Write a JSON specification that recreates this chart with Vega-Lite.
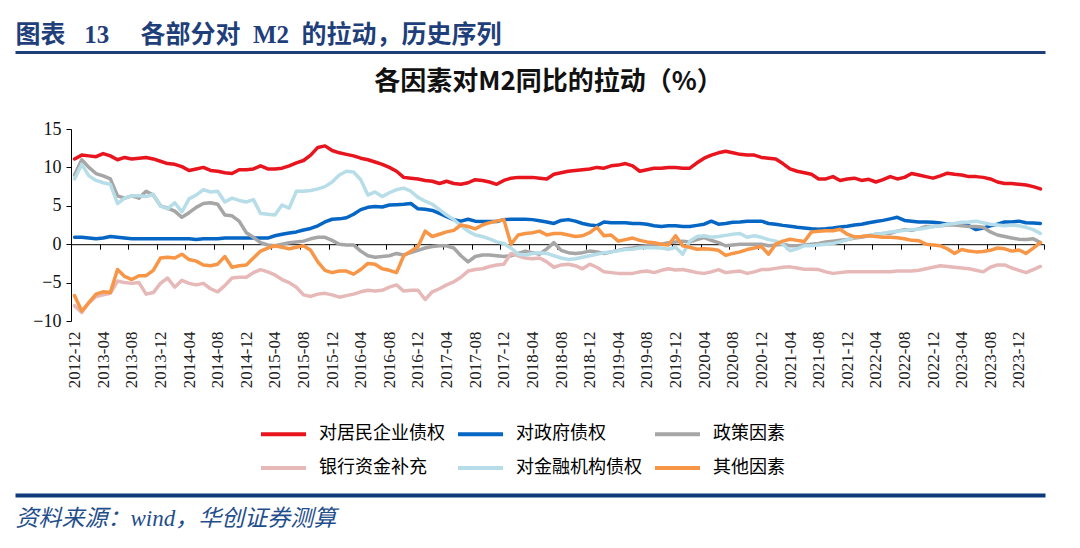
{
  "$schema": "https://vega.github.io/schema/vega-lite/v6.json",
  "width": 973,
  "height": 192,
  "autosize": {"type": "none"},
  "padding": {"left": 71, "top": 129, "right": 36, "bottom": 227},
  "background": "white",
  "config": {"view": {"stroke": null}, "axis": {"grid": false}},
  "data": {"values": [
    {"m":"2012-12","a":11.1,"b":0.9,"c":9.0,"d":-8.0,"e":8.5,"f":-6.7},
    {"m":"2013-01","a":11.6,"b":0.9,"c":11.0,"d":-8.9,"e":10.4,"f":-8.7},
    {"m":"2013-02","a":11.5,"b":0.8,"c":10.0,"d":-7.6,"e":8.9,"f":-7.6},
    {"m":"2013-03","a":11.4,"b":0.7,"c":9.2,"d":-6.8,"e":8.3,"f":-6.5},
    {"m":"2013-04","a":11.8,"b":0.8,"c":8.9,"d":-6.6,"e":8.0,"f":-6.2},
    {"m":"2013-05","a":11.5,"b":1.0,"c":8.5,"d":-6.4,"e":7.8,"f":-6.3},
    {"m":"2013-06","a":11.0,"b":0.9,"c":6.3,"d":-4.8,"e":5.3,"f":-3.3},
    {"m":"2013-07","a":11.3,"b":0.8,"c":6.0,"d":-5.0,"e":6.0,"f":-4.2},
    {"m":"2013-08","a":11.1,"b":0.7,"c":6.3,"d":-5.1,"e":6.3,"f":-4.6},
    {"m":"2013-09","a":11.2,"b":0.7,"c":6.0,"d":-5.0,"e":6.3,"f":-4.1},
    {"m":"2013-10","a":11.3,"b":0.7,"c":6.9,"d":-6.5,"e":6.2,"f":-4.1},
    {"m":"2013-11","a":11.1,"b":0.7,"c":6.4,"d":-6.3,"e":6.5,"f":-3.4},
    {"m":"2013-12","a":10.8,"b":0.7,"c":5.0,"d":-5.1,"e":5.0,"f":-1.8},
    {"m":"2014-01","a":10.5,"b":0.7,"c":4.7,"d":-4.4,"e":4.6,"f":-1.7},
    {"m":"2014-02","a":10.4,"b":0.7,"c":4.3,"d":-5.6,"e":5.4,"f":-1.8},
    {"m":"2014-03","a":10.1,"b":0.7,"c":3.5,"d":-4.7,"e":4.2,"f":-1.3},
    {"m":"2014-04","a":9.6,"b":0.7,"c":4.1,"d":-5.1,"e":5.9,"f":-2.0},
    {"m":"2014-05","a":9.8,"b":0.6,"c":4.8,"d":-5.3,"e":6.4,"f":-2.2},
    {"m":"2014-06","a":10.0,"b":0.7,"c":5.3,"d":-5.1,"e":7.1,"f":-2.7},
    {"m":"2014-07","a":9.6,"b":0.7,"c":5.4,"d":-5.8,"e":6.8,"f":-2.8},
    {"m":"2014-08","a":9.5,"b":0.7,"c":5.2,"d":-6.2,"e":6.9,"f":-2.6},
    {"m":"2014-09","a":9.3,"b":0.8,"c":3.8,"d":-5.4,"e":5.5,"f":-1.6},
    {"m":"2014-10","a":9.2,"b":0.8,"c":3.7,"d":-4.4,"e":6.0,"f":-3.0},
    {"m":"2014-11","a":9.7,"b":0.8,"c":3.0,"d":-4.3,"e":5.7,"f":-2.8},
    {"m":"2014-12","a":9.7,"b":0.8,"c":1.5,"d":-4.3,"e":5.5,"f":-2.7},
    {"m":"2015-01","a":9.8,"b":0.8,"c":0.9,"d":-3.7,"e":5.8,"f":-1.8},
    {"m":"2015-02","a":10.2,"b":0.8,"c":0.2,"d":-3.3,"e":4.0,"f":-0.9},
    {"m":"2015-03","a":9.8,"b":0.8,"c":-0.1,"d":-3.6,"e":3.9,"f":-0.5},
    {"m":"2015-04","a":9.8,"b":1.1,"c":-0.2,"d":-4.0,"e":3.8,"f":-0.2},
    {"m":"2015-05","a":9.9,"b":1.3,"c":0.0,"d":-4.6,"e":5.1,"f":-0.4},
    {"m":"2015-06","a":10.2,"b":1.45,"c":0.2,"d":-5.0,"e":4.7,"f":-0.6},
    {"m":"2015-07","a":10.6,"b":1.6,"c":0.3,"d":-5.6,"e":6.9,"f":-0.4},
    {"m":"2015-08","a":10.9,"b":1.85,"c":0.4,"d":-6.6,"e":6.9,"f":-0.2},
    {"m":"2015-09","a":11.6,"b":2.05,"c":0.7,"d":-6.8,"e":7.0,"f":-0.8},
    {"m":"2015-10","a":12.6,"b":2.4,"c":0.9,"d":-6.5,"e":7.2,"f":-2.3},
    {"m":"2015-11","a":12.8,"b":2.9,"c":0.9,"d":-6.4,"e":7.5,"f":-3.4},
    {"m":"2015-12","a":12.2,"b":3.25,"c":0.5,"d":-6.6,"e":8.1,"f":-3.7},
    {"m":"2016-01","a":11.9,"b":3.3,"c":0.0,"d":-6.9,"e":9.0,"f":-3.5},
    {"m":"2016-02","a":11.7,"b":3.45,"c":-0.1,"d":-6.7,"e":9.5,"f":-3.5},
    {"m":"2016-03","a":11.5,"b":3.9,"c":-0.1,"d":-6.5,"e":9.4,"f":-3.9},
    {"m":"2016-04","a":11.2,"b":4.5,"c":-0.9,"d":-6.2,"e":8.4,"f":-3.3},
    {"m":"2016-05","a":11.0,"b":4.8,"c":-1.5,"d":-6.0,"e":6.4,"f":-2.5},
    {"m":"2016-06","a":10.7,"b":4.9,"c":-1.7,"d":-6.1,"e":6.8,"f":-2.6},
    {"m":"2016-07","a":10.4,"b":4.85,"c":-1.6,"d":-6.0,"e":6.2,"f":-3.2},
    {"m":"2016-08","a":10.0,"b":5.1,"c":-1.5,"d":-5.6,"e":6.7,"f":-3.4},
    {"m":"2016-09","a":9.5,"b":5.15,"c":-1.2,"d":-5.3,"e":7.1,"f":-3.7},
    {"m":"2016-10","a":8.7,"b":5.2,"c":-1.4,"d":-6.1,"e":7.3,"f":-1.5},
    {"m":"2016-11","a":8.6,"b":5.3,"c":-1.1,"d":-6.0,"e":6.9,"f":-0.9},
    {"m":"2016-12","a":8.5,"b":4.6,"c":-0.8,"d":-6.0,"e":6.1,"f":-0.3},
    {"m":"2017-01","a":8.3,"b":4.55,"c":-0.5,"d":-7.2,"e":5.6,"f":1.7},
    {"m":"2017-02","a":8.2,"b":4.4,"c":-0.3,"d":-6.2,"e":5.2,"f":1.0},
    {"m":"2017-03","a":7.9,"b":4.0,"c":-0.2,"d":-5.8,"e":4.5,"f":1.3},
    {"m":"2017-04","a":8.2,"b":3.6,"c":-0.2,"d":-5.3,"e":3.8,"f":1.6},
    {"m":"2017-05","a":7.9,"b":3.2,"c":-0.5,"d":-4.9,"e":3.2,"f":1.8},
    {"m":"2017-06","a":7.8,"b":3.0,"c":-1.5,"d":-4.3,"e":2.4,"f":2.5},
    {"m":"2017-07","a":8.0,"b":3.25,"c":-2.3,"d":-3.5,"e":1.7,"f":2.3},
    {"m":"2017-08","a":8.4,"b":3.0,"c":-1.6,"d":-3.3,"e":1.2,"f":2.0},
    {"m":"2017-09","a":8.3,"b":2.95,"c":-1.4,"d":-3.2,"e":1.0,"f":2.5},
    {"m":"2017-10","a":8.1,"b":2.95,"c":-1.4,"d":-2.9,"e":0.7,"f":2.8},
    {"m":"2017-11","a":7.8,"b":2.95,"c":-1.5,"d":-2.7,"e":0.3,"f":3.0},
    {"m":"2017-12","a":8.3,"b":3.2,"c":-1.6,"d":-2.6,"e":0.1,"f":3.2},
    {"m":"2018-01","a":8.6,"b":3.25,"c":-1.5,"d":-1.2,"e":-0.5,"f":0.0},
    {"m":"2018-02","a":8.7,"b":3.25,"c":-1.2,"d":-1.5,"e":-1.3,"f":1.2},
    {"m":"2018-03","a":8.7,"b":3.25,"c":-0.9,"d":-1.8,"e":-1.4,"f":1.4},
    {"m":"2018-04","a":8.7,"b":3.2,"c":-1.1,"d":-1.9,"e":-1.2,"f":1.5},
    {"m":"2018-05","a":8.6,"b":3.05,"c":-1.3,"d":-1.8,"e":-1.1,"f":1.7},
    {"m":"2018-06","a":8.5,"b":2.9,"c":-0.6,"d":-2.3,"e":-1.2,"f":1.2},
    {"m":"2018-07","a":9.1,"b":2.7,"c":0.2,"d":-3.0,"e":-1.5,"f":1.4},
    {"m":"2018-08","a":9.3,"b":3.1,"c":-0.8,"d":-2.7,"e":-1.8,"f":1.4},
    {"m":"2018-09","a":9.5,"b":3.2,"c":-1.1,"d":-2.6,"e":-2.0,"f":1.2},
    {"m":"2018-10","a":9.6,"b":3.0,"c":-1.2,"d":-2.8,"e":-1.9,"f":1.0},
    {"m":"2018-11","a":9.7,"b":2.7,"c":-1.1,"d":-3.2,"e":-1.7,"f":1.1},
    {"m":"2018-12","a":9.8,"b":2.5,"c":-0.9,"d":-2.6,"e":-1.5,"f":1.5},
    {"m":"2019-01","a":10.0,"b":2.4,"c":-1.0,"d":-3.0,"e":-1.3,"f":2.2},
    {"m":"2019-02","a":9.9,"b":2.9,"c":-1.2,"d":-3.6,"e":-1.1,"f":1.1},
    {"m":"2019-03","a":10.2,"b":2.8,"c":-1.0,"d":-3.7,"e":-1.0,"f":1.2},
    {"m":"2019-04","a":10.3,"b":2.8,"c":-0.8,"d":-3.8,"e":-0.85,"f":0.4},
    {"m":"2019-05","a":10.5,"b":2.8,"c":-0.6,"d":-3.8,"e":-0.7,"f":0.6},
    {"m":"2019-06","a":10.2,"b":2.7,"c":-0.5,"d":-3.8,"e":-0.65,"f":0.8},
    {"m":"2019-07","a":9.5,"b":2.7,"c":-0.3,"d":-3.6,"e":-0.5,"f":0.5},
    {"m":"2019-08","a":9.7,"b":2.6,"c":-0.2,"d":-3.5,"e":-0.45,"f":0.3},
    {"m":"2019-09","a":9.9,"b":2.4,"c":-0.1,"d":-3.7,"e":-0.45,"f":0.2},
    {"m":"2019-10","a":9.9,"b":2.3,"c":0.0,"d":-3.4,"e":-0.5,"f":0.0},
    {"m":"2019-11","a":10.0,"b":2.4,"c":0.2,"d":-3.2,"e":-0.65,"f":-0.1},
    {"m":"2019-12","a":10.0,"b":2.4,"c":0.3,"d":-3.35,"e":-0.4,"f":1.1},
    {"m":"2020-01","a":9.9,"b":2.3,"c":0.4,"d":-3.3,"e":-1.3,"f":-0.2},
    {"m":"2020-02","a":9.9,"b":2.3,"c":0.3,"d":-3.5,"e":0.4,"f":-0.4},
    {"m":"2020-03","a":10.6,"b":2.45,"c":0.6,"d":-3.7,"e":1.0,"f":-0.65},
    {"m":"2020-04","a":11.2,"b":2.6,"c":0.85,"d":-3.8,"e":1.1,"f":-0.6},
    {"m":"2020-05","a":11.6,"b":3.0,"c":0.5,"d":-3.6,"e":0.9,"f":-0.65},
    {"m":"2020-06","a":11.9,"b":2.6,"c":0.2,"d":-3.3,"e":1.0,"f":-0.8},
    {"m":"2020-07","a":12.1,"b":2.7,"c":-0.2,"d":-3.7,"e":1.15,"f":-1.45},
    {"m":"2020-08","a":11.9,"b":2.85,"c":-0.1,"d":-3.6,"e":1.3,"f":-1.2},
    {"m":"2020-09","a":11.7,"b":2.9,"c":0.0,"d":-3.5,"e":1.4,"f":-1.0},
    {"m":"2020-10","a":11.6,"b":3.0,"c":0.0,"d":-3.8,"e":0.9,"f":-0.7},
    {"m":"2020-11","a":11.6,"b":3.0,"c":0.0,"d":-3.6,"e":1.1,"f":-0.5},
    {"m":"2020-12","a":11.3,"b":3.0,"c":0.0,"d":-3.3,"e":0.9,"f":-0.3},
    {"m":"2021-01","a":11.2,"b":2.7,"c":-0.2,"d":-3.3,"e":0.6,"f":-1.3},
    {"m":"2021-02","a":11.1,"b":2.6,"c":-0.1,"d":-3.15,"e":0.4,"f":0.0},
    {"m":"2021-03","a":10.5,"b":2.45,"c":0.0,"d":-3.0,"e":0.0,"f":0.4},
    {"m":"2021-04","a":9.8,"b":2.35,"c":-0.2,"d":-2.95,"e":-0.85,"f":0.65},
    {"m":"2021-05","a":9.5,"b":2.2,"c":-0.2,"d":-3.1,"e":-0.6,"f":0.5},
    {"m":"2021-06","a":9.3,"b":2.1,"c":-0.1,"d":-3.25,"e":-0.2,"f":0.35},
    {"m":"2021-07","a":9.1,"b":2.0,"c":0.0,"d":-3.25,"e":-0.2,"f":1.6},
    {"m":"2021-08","a":8.5,"b":1.95,"c":0.1,"d":-3.3,"e":-0.1,"f":1.7},
    {"m":"2021-09","a":8.5,"b":2.0,"c":0.3,"d":-3.6,"e":0.0,"f":1.75},
    {"m":"2021-10","a":8.8,"b":2.1,"c":0.4,"d":-3.8,"e":0.1,"f":1.75},
    {"m":"2021-11","a":8.3,"b":2.25,"c":0.5,"d":-3.7,"e":0.3,"f":1.95},
    {"m":"2021-12","a":8.5,"b":2.35,"c":0.6,"d":-3.6,"e":0.6,"f":1.3},
    {"m":"2022-01","a":8.6,"b":2.5,"c":0.8,"d":-3.6,"e":0.9,"f":0.95},
    {"m":"2022-02","a":8.3,"b":2.6,"c":0.9,"d":-3.6,"e":1.0,"f":1.0},
    {"m":"2022-03","a":8.45,"b":2.8,"c":1.1,"d":-3.6,"e":1.15,"f":1.1},
    {"m":"2022-04","a":8.1,"b":2.95,"c":1.3,"d":-3.6,"e":1.3,"f":1.0},
    {"m":"2022-05","a":8.4,"b":3.1,"c":1.4,"d":-3.6,"e":1.4,"f":0.9},
    {"m":"2022-06","a":8.8,"b":3.3,"c":1.4,"d":-3.6,"e":1.6,"f":0.9},
    {"m":"2022-07","a":8.5,"b":3.5,"c":1.7,"d":-3.5,"e":1.7,"f":0.85},
    {"m":"2022-08","a":8.7,"b":3.1,"c":1.9,"d":-3.5,"e":1.8,"f":0.7},
    {"m":"2022-09","a":9.2,"b":3.0,"c":1.8,"d":-3.5,"e":1.9,"f":0.5},
    {"m":"2022-10","a":9.0,"b":2.9,"c":2.0,"d":-3.4,"e":1.95,"f":0.45},
    {"m":"2022-11","a":8.8,"b":2.9,"c":2.3,"d":-3.2,"e":2.1,"f":0.0},
    {"m":"2022-12","a":8.6,"b":2.85,"c":2.3,"d":-3.0,"e":2.3,"f":-0.1},
    {"m":"2023-01","a":8.9,"b":2.75,"c":2.4,"d":-2.8,"e":2.4,"f":-0.2},
    {"m":"2023-02","a":9.25,"b":2.6,"c":2.5,"d":-2.9,"e":2.6,"f":-0.6},
    {"m":"2023-03","a":9.1,"b":2.6,"c":2.5,"d":-3.0,"e":2.7,"f":-1.2},
    {"m":"2023-04","a":9.0,"b":2.6,"c":2.4,"d":-3.1,"e":2.85,"f":-0.7},
    {"m":"2023-05","a":8.8,"b":2.4,"c":2.3,"d":-3.2,"e":2.9,"f":-0.9},
    {"m":"2023-06","a":8.8,"b":1.9,"c":2.3,"d":-3.4,"e":3.0,"f":-1.0},
    {"m":"2023-07","a":8.7,"b":2.1,"c":2.2,"d":-3.6,"e":2.8,"f":-0.95},
    {"m":"2023-08","a":8.5,"b":2.4,"c":1.6,"d":-3.0,"e":2.6,"f":-0.8},
    {"m":"2023-09","a":8.1,"b":2.6,"c":1.2,"d":-2.7,"e":2.5,"f":-0.5},
    {"m":"2023-10","a":7.9,"b":2.9,"c":1.0,"d":-2.7,"e":2.4,"f":-0.6},
    {"m":"2023-11","a":7.9,"b":2.9,"c":0.8,"d":-3.1,"e":2.5,"f":-0.9},
    {"m":"2023-12","a":7.8,"b":3.0,"c":0.65,"d":-3.4,"e":2.4,"f":-0.75},
    {"m":"2024-01","a":7.7,"b":2.8,"c":0.6,"d":-3.7,"e":2.2,"f":-1.2},
    {"m":"2024-02","a":7.5,"b":2.75,"c":0.7,"d":-3.3,"e":1.9,"f":-0.5},
    {"m":"2024-03","a":7.2,"b":2.7,"c":0.2,"d":-2.9,"e":1.4,"f":0.2}
  ]},
  "layer": [
    {
      "transform": [{"fold": ["a","b","c","d","e","f"], "as": ["k","v"]}],
      "mark": {"type": "line", "strokeWidth": 3.5, "strokeJoin": "round", "strokeCap": "round"},
      "encoding": {
        "x": {"field": "m", "type": "ordinal", "scale": {"type": "point", "padding": 0.5},
          "axis": {"orient": "bottom", "title": null, "domain": false, "ticks": false,
            "values": ["2012-12","2013-04","2013-08","2013-12","2014-04","2014-08","2014-12","2015-04","2015-08","2015-12","2016-04","2016-08","2016-12","2017-04","2017-08","2017-12","2018-04","2018-08","2018-12","2019-04","2019-08","2019-12","2020-04","2020-08","2020-12","2021-04","2021-08","2021-12","2022-04","2022-08","2022-12","2023-04","2023-08","2023-12"],
            "labelAngle": 270, "labelAlign": "right", "labelBaseline": "middle",
            "labelFont": "Liberation Serif", "labelFontSize": 17, "labelColor": "#222",
            "labelPadding": 10, "labelOverlap": false, "labelFlush": false}},
        "y": {"field": "v", "type": "quantitative",
          "scale": {"domain": [-10, 15], "nice": false, "zero": false},
          "axis": {"title": null, "values": [-10,-5,0,5,10,15], "grid": false,
            "domain": true, "domainColor": "#000", "domainWidth": 1,
            "ticks": true, "tickColor": "#000", "tickSize": 5,
            "labelFont": "Liberation Serif", "labelFontSize": 18, "labelColor": "#111", "labelPadding": 5}},
        "color": {"field": "k", "type": "nominal",
          "scale": {"domain": ["a","b","c","d","e","f"],
            "range": ["#E8141E","#0566C4","#A6A6A6","#E6B9B8","#B7DEE8","#F79646"]},
          "legend": {"orient": "none", "legendX": 188, "legendY": 280.5, "columns": 3,
            "direction": "horizontal", "title": null, "padding": 0,
            "symbolType": "stroke", "symbolSize": 2025, "symbolStrokeWidth": 4,
            "labelFont": "Noto Sans CJK SC", "labelFontSize": 18, "labelColor": "#000",
            "labelOffset": 11, "columnPadding": 5, "rowPadding": -10, "labelLimit": 300,
            "labelExpr": "{'a':'对居民企业债权','b':'对政府债权','c':'政策因素','d':'银行资金补充','e':'对金融机构债权','f':'其他因素'}[datum.label]"}}
      }
    },
    {
      "mark": {"type": "point", "opacity": 0},
      "encoding": {
        "x": {"field": "m", "type": "ordinal", "scale": {"type": "point", "padding": 0.5},
          "axis": {"orient": "bottom", "offset": -76.8, "title": null, "labels": false,
            "values": ["2013-03","2013-07","2013-11","2014-03","2014-07","2014-11","2015-03","2015-07","2015-11","2016-03","2016-07","2016-11","2017-03","2017-07","2017-11","2018-03","2018-07","2018-11","2019-03","2019-07","2019-11","2020-03","2020-07","2020-11","2021-03","2021-07","2021-11","2022-03","2022-07","2022-11","2023-03","2023-07","2023-11","2024-03"],
            "ticks": true, "tickSize": 5, "tickColor": "#000", "tickWidth": 1, "tickOffset": 3.577,
            "domain": true, "domainColor": "#000", "domainWidth": 1}}
      }
    },
    {
      "mark": {"type": "point", "opacity": 0},
      "encoding": {
        "x": {"field": "m", "type": "ordinal", "scale": {"type": "point", "padding": 0.5, "range": [-56, 974]},
          "axis": {"orient": "top", "offset": 77, "labels": false, "ticks": false,
            "domain": true, "domainColor": "#1F3F7A", "domainWidth": 3,
            "title": "图表\u00a0\u00a0\u00a013\u00a0\u00a0\u00a0\u00a0\u00a0各部分对\u00a0\u00a0M2\u00a0\u00a0的拉动，历史序列",
            "titleX": -56, "titleY": -10, "titleAlign": "left", "titleAnchor": "start",
            "titleBaseline": "alphabetic", "titleFont": "Liberation Serif, Noto Sans CJK SC",
            "titleFontSize": 25, "titleFontWeight": "bold", "titleColor": "#1F3F7A"}}
      }
    },
    {
      "mark": {"type": "point", "opacity": 0},
      "encoding": {
        "x": {"field": "m", "type": "ordinal", "scale": {"type": "point", "padding": 0.5},
          "axis": {"orient": "top", "offset": 0, "labels": false, "ticks": false, "domain": false,
            "title": "各因素对M2同比的拉动（%）",
            "titleX": 477, "titleY": -40, "titleAlign": "center", "titleAnchor": "start",
            "titleBaseline": "alphabetic", "titleFont": "Noto Sans CJK SC",
            "titleFontSize": 26, "titleFontWeight": "bold", "titleColor": "#111"}}
      }
    },
    {
      "mark": {"type": "point", "opacity": 0},
      "encoding": {
        "x": {"field": "m", "type": "ordinal", "scale": {"type": "point", "padding": 0.5, "range": [-56, 974]},
          "axis": {"orient": "bottom", "offset": 174, "labels": false, "ticks": false,
            "domain": true, "domainColor": "#0E3A7A", "domainWidth": 4,
            "title": "资料来源：wind，华创证券测算",
            "titleX": -56, "titleY": 30, "titleAlign": "left", "titleAnchor": "start",
            "titleBaseline": "alphabetic", "titleFont": "Liberation Serif, Noto Sans CJK SC",
            "titleFontSize": 23, "titleFontWeight": "normal", "titleFontStyle": "italic", "titleColor": "#1F4E8C"}}
      }
    }
  ],
  "resolve": {"axis": {"x": "independent"}, "scale": {"x": "independent"}}
}
